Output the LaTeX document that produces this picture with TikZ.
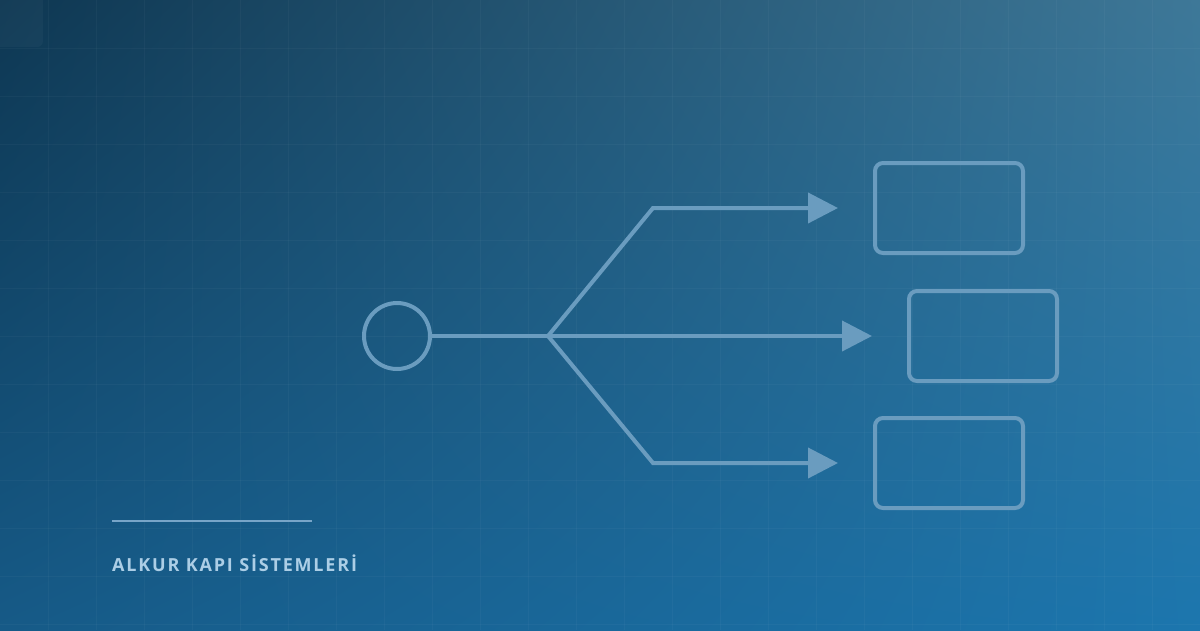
\documentclass[tikz,border=0pt]{standalone}
\usepackage{fontspec}
\setmainfont{Open Sans}
\newfontfamily\labelfont{Open Sans}[LetterSpace=10]
\usetikzlibrary{arrows.meta,shadings}
\definecolor{strk}{RGB}{106,156,191}
\definecolor{tl}{RGB}{14,55,82}
\definecolor{tr}{RGB}{62,120,152}
\definecolor{bl}{RGB}{22,90,135}
\definecolor{br}{RGB}{28,118,174}
\definecolor{txt}{RGB}{172,206,230}
\definecolor{rule}{RGB}{120,165,200}
\tikzset{
  shape stroke/.style={draw=strk, line width=4pt},
  boxnode/.style={shape stroke, rounded corners=8pt, minimum width=148pt, minimum height=90pt, inner sep=0pt},
  hubnode/.style={shape stroke, circle, minimum size=66pt, inner sep=0pt},
  conn/.style={draw=strk, line width=4pt, line join=miter},
  tipconn/.style={conn, -{Triangle[length=30pt,width=30pt]}},
}
\begin{document}
\begin{tikzpicture}[x=1pt,y=-1pt]
\useasboundingbox (0,0) rectangle (1200,630);
\shade[upper left=tl, upper right=tr, lower left=bl, lower right=br] (0,0) rectangle (1200,630);
% grid
\foreach \x in {48,96,...,1152} \draw[white, opacity=0.03, line width=1pt] (\x,0) -- (\x,630);
\foreach \y in {48,96,...,624} \draw[white, opacity=0.03, line width=1pt] (0,\y) -- (1200,\y);
% faint corner tile
\fill[white, opacity=0.03, rounded corners=6pt] (-10,-10) rectangle (43,47);
% hub
\node[hubnode] (hub) at (397,336) {};
\coordinate (fork) at (548,336);
\coordinate (up) at (653,208);
\coordinate (dn) at (653,463);
\coordinate (tipA) at (838,208);
\coordinate (tipB) at (872,336);
\coordinate (tipC) at (838,463);
% boxes
\node[boxnode] (boxA) at (949,208) {};
\node[boxnode] (boxB) at (983,336) {};
\node[boxnode] (boxC) at (949,463) {};
% connectors
\draw[tipconn] (hub.east) -- (tipB);
\draw[tipconn] (fork) -- (up) -- (tipA);
\draw[tipconn] (fork) -- (dn) -- (tipC);
% label
\coordinate (r1) at (112,521);
\coordinate (r2) at (312,521);
\draw[rule, line width=2pt] (r1) -- (r2);
\node[anchor=base west, inner sep=0pt, text=txt, font={\fontsize{18}{21}\selectfont\labelfont\bfseries}] (label) at (112,571) {ALKUR KAPI SİSTEMLERİ};
\end{tikzpicture}
\end{document}
